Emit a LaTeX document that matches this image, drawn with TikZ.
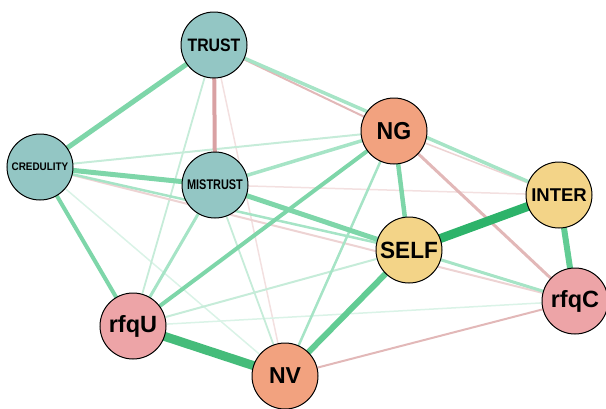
\documentclass[tikz,border=0pt]{standalone}
\usepackage{fontspec}
\setmainfont{Liberation Sans}
\usetikzlibrary{backgrounds}
\definecolor{cTeal}{HTML}{93C6C4}
\definecolor{cOrange}{HTML}{F2A27F}
\definecolor{cYellow}{HTML}{F3D488}
\definecolor{cPink}{HTML}{EDA4A7}
\definecolor{gDark}{HTML}{2DB36A}
\definecolor{gStrong}{HTML}{45BC7A}
\definecolor{gMid}{HTML}{62CC94}
\definecolor{gMed}{HTML}{7ED6A9}
\definecolor{gLight}{HTML}{A6E4C6}
\definecolor{gPale}{HTML}{C6ECD9}
\definecolor{gFaint}{HTML}{DAF3E7}
\definecolor{pMid}{HTML}{D9A1A3}
\definecolor{pLight}{HTML}{E2B8B8}
\definecolor{pPale}{HTML}{EDD3D3}
\definecolor{pFaint}{HTML}{F3E0E0}
\tikzset{
  nd/.style={circle, draw=black, line width=1pt, minimum size=66pt, inner sep=0pt},
  edg/.style={line width=#1},
}
\newcommand{\lbl}[3]{\scalebox{#2}[1]{\fontsize{#1}{#1}\selectfont\bfseries #3}}
\begin{document}
\begin{tikzpicture}[x=1pt,y=-1pt]
\useasboundingbox (0,0) rectangle (606,408);
\begin{scope}
\clip (0,0) rectangle (606,408);
\node[nd, fill=cTeal]   (T) at (214,45)  {\lbl{18}{0.88}{TRUST}};
\node[nd, fill=cTeal]   (C) at (40,167)  {\lbl{11}{0.9}{CREDULITY}};
\node[nd, fill=cTeal]   (M) at (215,185) {\lbl{14}{0.78}{MISTRUST}};
\node[nd, fill=cOrange] (G) at (394,131) {\lbl{24.5}{0.94}{NG}};
\node[nd, fill=cYellow] (I) at (559,195) {\lbl{18.5}{1}{INTER}};
\node[nd, fill=cYellow] (S) at (409,250) {\lbl{23.5}{0.96}{SELF}};
\node[nd, fill=cPink]   (Q) at (575,301) {\lbl{23.5}{1}{rfqC}};
\node[nd, fill=cPink]   (U) at (133,326) {\lbl{23.5}{1}{rfqU}};
\node[nd, fill=cOrange] (V) at (285,376) {\lbl{23}{1}{NV}};
\begin{scope}[on background layer]
% faint edges first
\draw[edg=1.5, pFaint] (T.center) -- (V.center);
\draw[edg=1.5, pFaint] (M.center) -- (I.center);
\draw[edg=1.5, gFaint] (C.center) -- (V.center);
\draw[edg=1.5, gFaint] (U.center) -- (Q.center);
\draw[edg=1.8, gPale]  (M.center) -- (V.center);
\draw[edg=1.8, gPale]  (T.center) -- (U.center);
\draw[edg=2, gPale]    (C.center) -- (G.center);
\draw[edg=1.5, pPale]  (G.center) -- (I.center);
\draw[edg=2, pPale]    (C.center) -- (Q.center);
\draw[edg=2, pLight]   (V.center) -- (Q.center);
\draw[edg=2, gPale]    (U.center) -- (S.center);
\draw[edg=2.5, gLight] (C.center) -- (S.center);
\draw[edg=2.5, gLight] (G.center) -- (V.center);
\draw[edg=3, gLight]   (S.center) -- (Q.center);
\draw[edg=2, pLight]   (T.center) -- (G.center);
\draw[edg=3.5, gLight] (T.center) -- (I.center);
\draw[edg=3, gLight]   (M.center) -- (U.center);
\draw[edg=3.5, gLight] (M.center) -- (G.center);
\draw[edg=4, gMed]     (U.center) -- (G.center);
\draw[edg=3, pLight]   (G.center) -- (Q.center);
\draw[edg=4, gMed]     (C.center) -- (U.center);
\draw[edg=4, pMid]     (T.center) -- (M.center);
\draw[edg=5, gMed]     (T.center) -- (C.center);
\draw[edg=5, gMed]     (C.center) -- (M.center);
\draw[edg=5, gMed]     (M.center) -- (S.center);
\draw[edg=4.5, gMed]   (G.center) -- (S.center);
\draw[edg=6, gMid]     (S.center) -- (V.center);
\draw[edg=6, gMid]     (I.center) -- (Q.center);
\draw[edg=9, gStrong]  (U.center) -- (V.center);
\draw[edg=9, gDark]    (S.center) -- (I.center);
\end{scope}
\end{scope}
\end{tikzpicture}
\end{document}
